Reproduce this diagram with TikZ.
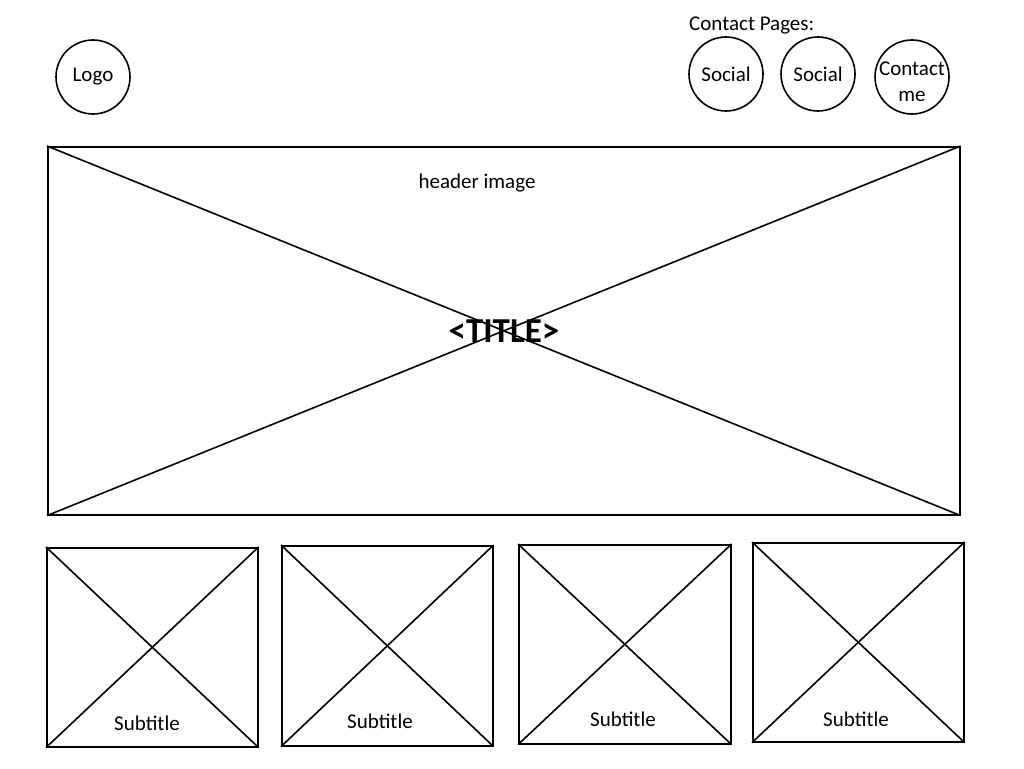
\documentclass[tikz,border=0pt]{standalone}
\usepackage{fontspec}
\setmainfont{Carlito}
\begin{document}
\begin{tikzpicture}[x=1pt,y=-1pt,
  wire/.style={draw=black,line width=1.6pt},
  bubble/.style={wire,circle,minimum size=74pt,inner sep=0pt,align=center,font=\fontsize{21}{26}\selectfont},
  frame/.style={wire,rectangle,inner sep=0pt,anchor=north west},
  label/.style={font=\fontsize{21}{26}\selectfont,inner sep=0pt},
  cross/.style={line width=1.6pt}]
\useasboundingbox (0,0) rectangle (1024,768);

% top bar: logo and contact links
\node[bubble] (logo) at (93,77) {Logo};
\node[label,anchor=west] (contact) at (689,25) {Contact Pages:};
\node[bubble] (s1) at (726,74) {Social};
\node[bubble] (s2) at (818,74) {Social};
\node[bubble] (cm) at (912,77) {};
\node[label,align=center] (cmtxt) at (912,82) {Contact\\me};

% header image placeholder
\node[frame,minimum width=912pt,minimum height=368pt] (hdr) at (47,146) {};
\draw[cross] (hdr.north west) -- (hdr.south east);
\draw[cross] (hdr.south west) -- (hdr.north east);
\node[label] (hdrtxt) at (477,183) {header image};
\node[font=\fontsize{35}{38}\selectfont\bfseries,inner sep=0pt] (title) at (504,331) {<TITLE>};

% four content tiles
\node[frame,minimum width=211pt,minimum height=199pt] (t1) at (46,547) {};
\node[frame,minimum width=211pt,minimum height=200pt] (t2) at (281,545) {};
\node[frame,minimum width=212pt,minimum height=199pt] (t3) at (518,544) {};
\node[frame,minimum width=211pt,minimum height=199pt] (t4) at (752,542) {};
\foreach \t in {t1,t2,t3,t4}{
  \draw[cross] (\t.north west) -- (\t.south east);
  \draw[cross] (\t.south west) -- (\t.north east);
}
\node[label] (st1) at (147,723) {Subtitle};
\node[label] (st2) at (380,721) {Subtitle};
\node[label] (st3) at (623,719) {Subtitle};
\node[label] (st4) at (856,719) {Subtitle};
\end{tikzpicture}
\end{document}
